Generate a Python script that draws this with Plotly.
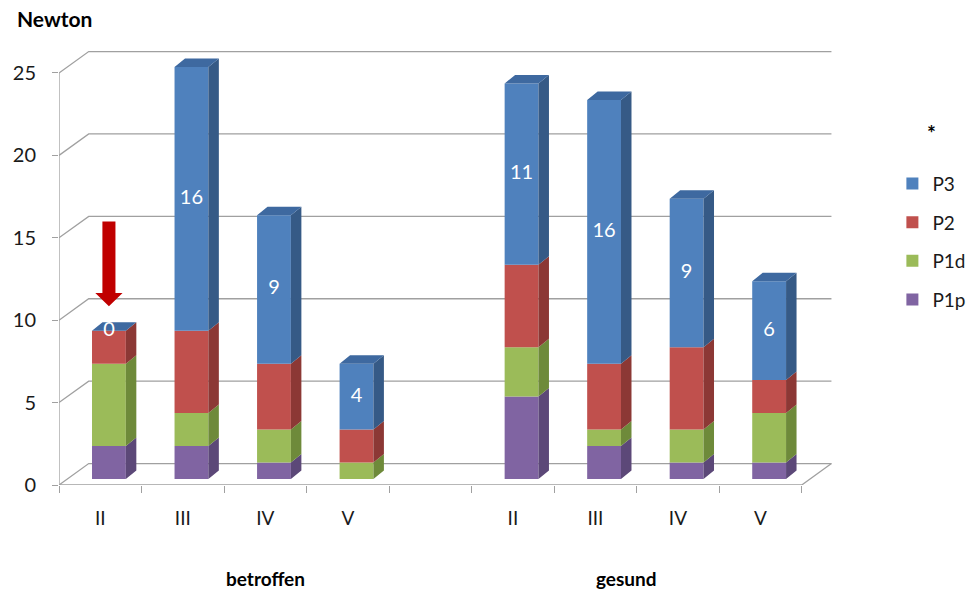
import plotly.graph_objects as go

# ---- data -------------------------------------------------------------
stufen_labels = ["II", "III", "IV", "V", "", "II", "III", "IV", "V"]
group_names = ["betroffen", "gesund"]
bar_slots = [0, 1, 2, 3, 5, 6, 7, 8]          # slot 4 stays empty between the groups

p1p = [2, 2, 1, 0, 5, 2, 1, 1]
p1d = [5, 2, 2, 1, 3, 1, 2, 3]
p2 = [2, 5, 4, 2, 5, 4, 5, 2]
p3 = [0, 16, 9, 4, 11, 16, 9, 6]

y_ticks = [0, 5, 10, 15, 20, 25]

# series drawn bottom-up: name, values, front / side / top colour
series = [
    ("P1p", p1p, "#8064A2", "#5C4878", "#6E5890"),
    ("P1d", p1d, "#9BBB59", "#6E8A3A", "#86A54A"),
    ("P2", p2, "#C0504D", "#8C3835", "#A84542"),
    ("P3", p3, "#4F81BD", "#365A86", "#3E69A0"),
]

# ---- pseudo-3D geometry (axis units) -----------------------------------
X_MAX, Y_MAX = 9.0, 27.0
WALL_DX, WALL_DY = 0.36, 1.30      # depth of floor / back wall
BAR_SX, BAR_SY = 0.105, 0.364      # bars stand slightly behind the front edge
BAR_W = 0.41
DEPTH_DX, DEPTH_DY = 0.127, 0.515  # bar depth
GRID = "#A0A0A0"
FONT = "Lato"

fig = go.Figure()

# frame: front axis lines, left wall diagonals, back wall grid, floor edge
fx, fy = [], []
x_left, x_right = -0.5, len(stufen_labels) - 0.5
fx += [x_left, x_left, None]
fy += [0, y_ticks[-1], None]
fx += [x_left, x_right, x_right + WALL_DX, None]
fy += [0, 0, WALL_DY, None]
for v in y_ticks:
    fx += [x_left, x_left + WALL_DX, x_right + WALL_DX, None]
    fy += [v, v + WALL_DY, v + WALL_DY, None]
fig.add_trace(go.Scatter(x=fx, y=fy, mode="lines", line=dict(color=GRID, width=1.3),
                         hoverinfo="skip", showlegend=False, xaxis="x", yaxis="y"))

# stacked front faces plus side and top faces
bases = [0] * len(bar_slots)
side_polys = []
n_series = len(series)
for k, (name, vals, front, side, top) in enumerate(series):
    fig.add_trace(go.Bar(x=bar_slots, y=vals, base=list(bases), width=BAR_W,
                         marker=dict(color=front, line=dict(width=0)),
                         name=name, legendgroup=name, legendrank=n_series - k,
                         xaxis="x2", yaxis="y2", hoverinfo="skip"))
    sx, sy = [], []
    for xc, b, v in zip(bar_slots, bases, vals):
        xr = xc + BAR_W / 2
        sx += [xr, xr + DEPTH_DX, xr + DEPTH_DX, xr, xr, None]
        sy += [b, b + DEPTH_DY, b + v + DEPTH_DY, b + v, b, None]
    side_polys.append((sx, sy, side))
    bases = [b + v for b, v in zip(bases, vals)]

for sx, sy, col in side_polys:
    fig.add_trace(go.Scatter(x=sx, y=sy, mode="lines", fill="toself", fillcolor=col,
                             line=dict(width=0, color=col), hoverinfo="skip",
                             showlegend=False, xaxis="x2", yaxis="y2"))

top_col = series[-1][4]
tx, ty = [], []
for xc, t in zip(bar_slots, bases):
    xl, xr = xc - BAR_W / 2, xc + BAR_W / 2
    tx += [xl, xl + DEPTH_DX, xr + DEPTH_DX, xr, xl, None]
    ty += [t, t + DEPTH_DY, t + DEPTH_DY, t, t, None]
fig.add_trace(go.Scatter(x=tx, y=ty, mode="lines", fill="toself", fillcolor=top_col,
                         line=dict(width=0, color=top_col), hoverinfo="skip",
                         showlegend=False, xaxis="x2", yaxis="y2"))

# red pointer onto the first bar
ax0 = bar_slots[0]
tip = bases[0] + 1.48
head_top = tip + 0.80
tail = tip + 5.15
bw, hw = 0.079, 0.165
fig.add_trace(go.Scatter(
    x=[ax0 - bw, ax0 + bw, ax0 + bw, ax0 + hw, ax0, ax0 - hw, ax0 - bw, ax0 - bw],
    y=[tail, tail, head_top, head_top, tip, head_top, head_top, tail],
    mode="lines", fill="toself", fillcolor="#C00000", line=dict(width=0, color="#C00000"),
    hoverinfo="skip", showlegend=False, xaxis="x2", yaxis="y2"))

# P3 value labels centred in the blue segment
p3_base = [b - v for b, v in zip(bases, p3)]
fig.add_trace(go.Scatter(x=bar_slots, y=[b + v / 2 for b, v in zip(p3_base, p3)],
                         mode="text", text=[str(v) for v in p3],
                         textfont=dict(family=FONT, size=20, color="white"),
                         hoverinfo="skip", showlegend=False, xaxis="x2", yaxis="y2"))

fig.update_layout(
    width=973, height=594,
    margin=dict(l=59, r=130, t=40, b=109, autoexpand=False),
    paper_bgcolor="white", plot_bgcolor="white",
    barmode="overlay",
    font=dict(family=FONT, size=19, color="#1A1A1A"),
    xaxis=dict(range=[-0.5, X_MAX], showgrid=False, zeroline=False, showline=False,
               tickmode="array", tickvals=list(range(len(stufen_labels))),
               ticktext=stufen_labels, ticks="", ticklabelstandoff=20,
               tickfont=dict(family=FONT, size=19),
               minor=dict(tickmode="array",
                          tickvals=[i - 0.5 for i in range(len(stufen_labels) + 1)],
                          ticks="outside", ticklen=7, tickwidth=1.3, tickcolor=GRID,
                          showgrid=False)),
    yaxis=dict(range=[0, Y_MAX], showgrid=False, zeroline=False, showline=False,
               tickmode="array", tickvals=y_ticks, ticks="outside", ticklen=6,
               tickwidth=1.3, tickcolor=GRID, ticklabelstandoff=12,
               tickfont=dict(family=FONT, size=20)),
    xaxis2=dict(range=[-0.5 - BAR_SX, X_MAX - BAR_SX], overlaying="x", anchor="y2",
                visible=False),
    yaxis2=dict(range=[-BAR_SY, Y_MAX - BAR_SY], overlaying="y", anchor="x2",
                visible=False),
    legend=dict(x=1.063, y=0.72, xanchor="left", yanchor="top",
                traceorder="grouped", tracegroupgap=11,
                font=dict(family=FONT, size=19), bgcolor="rgba(0,0,0,0)"),
    showlegend=True,
    annotations=[
        dict(text="<b>Newton</b>", x=-0.056, y=1.048, xref="paper", yref="paper",
             xanchor="left", yanchor="middle", showarrow=False,
             font=dict(family=FONT, size=21, color="black")),
        dict(text="<b>*</b>", x=1.113, y=0.792, xref="paper", yref="paper",
             xanchor="center", yanchor="middle",
             showarrow=False, font=dict(family=FONT, size=21, color="black")),
        dict(text="<b>%s</b>" % group_names[0], x=2.007, y=-0.209, xref="x", yref="paper",
             xanchor="center", yanchor="middle",
             showarrow=False, font=dict(family=FONT, size=19, color="black")),
        dict(text="<b>%s</b>" % group_names[1], x=6.38, y=-0.209, xref="x", yref="paper",
             xanchor="center", yanchor="middle",
             showarrow=False, font=dict(family=FONT, size=19, color="black")),
    ],
)

fig.write_html("out.html")
